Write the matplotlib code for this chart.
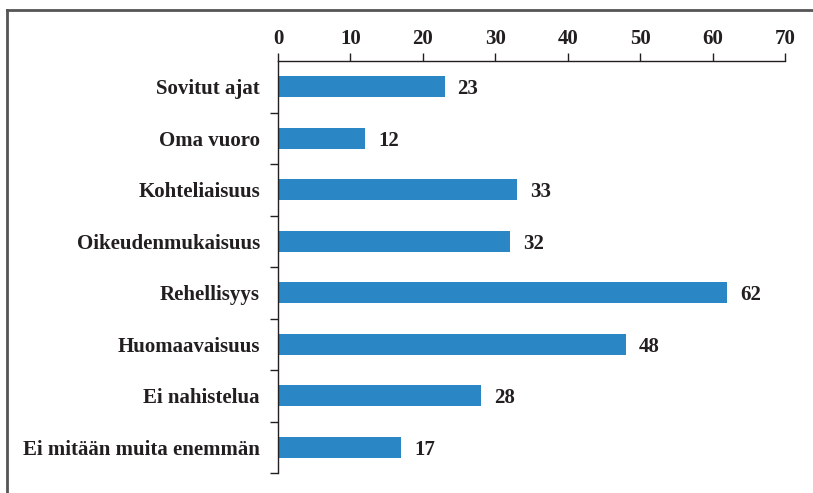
import matplotlib.pyplot as plt
from matplotlib.lines import Line2D

categories = ['Sovitut ajat', 'Oma vuoro', 'Kohteliaisuus', 'Oikeudenmukaisuus',
              'Rehellisyys', 'Huomaavaisuus', 'Ei nahistelua', 'Ei mitään muita enemmän']
values = [23, 12, 33, 32, 62, 48, 28, 17]
xticks = [0, 10, 20, 30, 40, 50, 60, 70]

plt.rcParams['font.family'] = ['Liberation Serif', 'DejaVu Serif']
plt.rcParams['font.weight'] = 'bold'

fs = 15
fig = plt.figure(figsize=(8.13, 4.93), dpi=100)
ax = fig.add_axes([278/813, 1 - 473/493, (785 - 278)/813, (473 - 61)/493])

pos = list(range(len(categories)))
ax.barh(pos, values, height=0.41, color='#2A86C4')
for p, v in zip(pos, values):
    ax.text(v + 1.8, p, str(v), va='center_baseline', ha='left', fontsize=fs,
            fontweight='bold', color='#231f20')

ax.set_xlim(0, 70)
ax.set_ylim(len(categories) - 0.5, -0.5)
ax.xaxis.tick_top()
ax.set_xticks(xticks)
ax.set_xticklabels([str(t) for t in xticks], fontsize=fs, fontweight='bold', color='#231f20')
ax.tick_params(axis='x', direction='out', length=6, width=1, color='#231f20', pad=3)

# category labels centred, ticks on boundaries
ax.set_yticks(pos)
ax.set_yticklabels(categories, fontsize=fs, fontweight='bold', color='#231f20',
                   va='center_baseline')
ax.tick_params(axis='y', which='major', length=0, pad=13)
ax.set_yticks([p + 0.5 for p in pos], minor=True)
ax.tick_params(axis='y', which='minor', direction='out', length=6, width=1, color='#231f20')

for s in ['right', 'bottom']:
    ax.spines[s].set_visible(False)
for s in ['top', 'left']:
    ax.spines[s].set_color('#231f20')
    ax.spines[s].set_linewidth(1)

# outer frame (left and top only visible)
fig.add_artist(Line2D([7/813, 7/813], [0, 1 - 10/493], color='#555555', lw=2, transform=fig.transFigure))
fig.add_artist(Line2D([7/813, 1], [1 - 10/493, 1 - 10/493], color='#555555', lw=2, transform=fig.transFigure))

fig.savefig('out.png', dpi=100)
